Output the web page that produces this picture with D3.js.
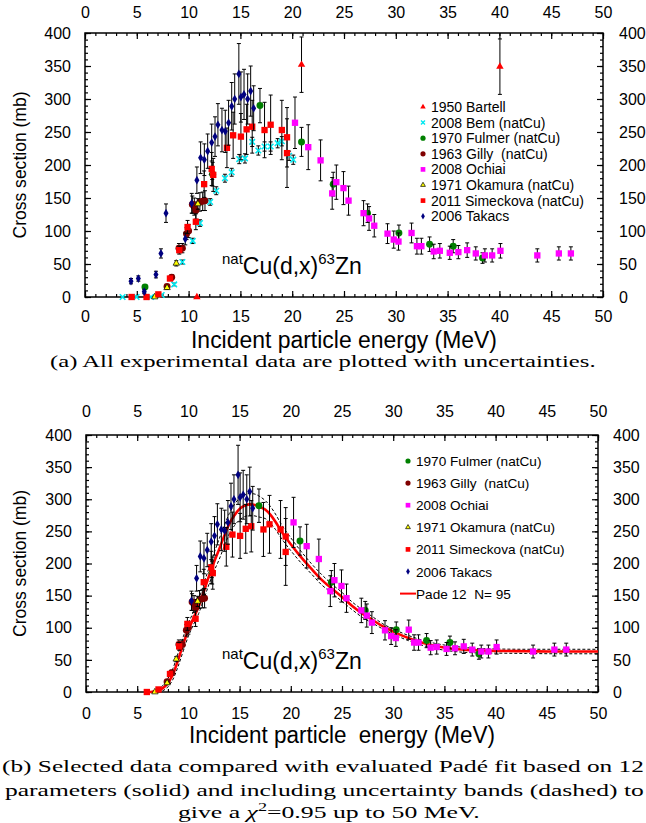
<!DOCTYPE html>
<html>
<head>
<meta charset="utf-8">
<script src="https://cdn.jsdelivr.net/npm/d3@7"></script>
<style>
body { margin: 0; background: #fff; }
svg text { font-family: "Liberation Sans", Arial, sans-serif; fill: #000; white-space: pre; }
svg text.cap { font-family: "Liberation Serif", "Times New Roman", serif; }
</style>
</head>
<body>
<div id="chart"></div>
<script>
// each point: [energy (MeV), cross section (mb), uncertainty (mb)]
var bartell = [[10.8, 0, 0], [20.9, 352, 42], [40.05, 349, 42]];
var bem = [[3.63, 0, 0], [4.98, 0, 0], [6.37, 0, 0], [7.4, 3, 1], [8.61, 19, 2], [9.4, 53, 3],
    [10.4, 85, 4], [11.1, 112, 5], [12.08, 144, 5], [12.67, 161, 6], [13.51, 180, 6], [14.16, 189, 6],
    [14.89, 209, 7], [15.44, 210, 7], [16.14, 235, 7], [16.73, 222, 7], [17.33, 228, 7], [17.92, 228, 7],
    [18.6, 233, 7], [19.0, 236, 7], [19.7, 214, 7], [20.1, 208, 7]];
var fulmer = [[5.79, 15, 3], [12.32, 186, 18], [16.89, 290, 26], [20.9, 235, 22], [23.96, 171, 18],
    [27.27, 127, 14], [30.3, 97, 12], [33.26, 80, 11], [35.54, 77, 10], [38.37, 59, 8]];
var gilly = [[7.92, 16, 3], [8.37, 30, 4], [9.07, 74, 7], [9.4, 74, 7], [9.8, 96, 9], [10.0, 100, 10],
    [10.36, 140, 13], [10.55, 137, 13], [10.7, 131, 13], [11.09, 144, 14], [11.36, 145, 14], [11.58, 146, 15]];
var ochiai = [[20.27, 264, 39], [21.55, 227, 34], [22.74, 207, 31], [23.86, 157, 24], [24.26, 174, 26],
    [24.95, 165, 25], [25.44, 146, 22], [26.89, 127, 19], [27.42, 119, 18], [27.92, 108, 17], [29.2, 96, 15],
    [29.8, 87, 13], [30.26, 84, 13], [31.52, 97, 15], [32.04, 77, 12], [32.47, 77, 12], [33.66, 69, 11],
    [34.25, 70, 11], [35.21, 67, 10], [36.04, 68, 10], [36.89, 71, 11], [37.72, 66, 10], [38.6, 63, 10],
    [39.3, 63, 10], [40.1, 70, 11], [43.66, 63, 10], [45.74, 66, 10], [46.9, 66, 10]];
var okamura = [[6.73, 0, 1], [7.92, 14, 2], [8.81, 51, 4], [10.9, 141, 8], [12.28, 188, 10]];
var simeckova = [[4.5, 0, 1], [5.94, 0, 1], [7.08, 4, 2], [8.2, 28, 3], [9.1, 71, 6], [9.9, 106, 10],
    [10.7, 114, 12], [11.5, 171, 20], [12.23, 194, 25], [12.38, 185, 25], [13.7, 226, 30], [14.3, 245, 35],
    [15.05, 243, 35], [15.6, 254, 38], [16.14, 258, 40], [17.33, 253, 42], [17.92, 261, 45], [19.0, 253, 45],
    [19.5, 242, 45], [19.5, 218, 52]];
var takacs = [[4.44, 24, 4], [5.15, 28, 4], [5.72, 8, 3], [6.85, 34, 5], [7.33, 66, 7], [7.82, 127, 14],
    [9.68, 88, 9], [10.3, 142, 15], [10.8, 177, 20], [11.16, 211, 24], [11.52, 208, 24], [11.84, 221, 26],
    [12.23, 234, 28], [12.55, 243, 30], [12.83, 261, 32], [13.22, 253, 33], [13.54, 251, 32], [13.86, 264, 34],
    [14.16, 289, 36], [14.45, 300, 38], [14.85, 338, 46], [15.05, 303, 38], [15.35, 307, 38], [15.7, 300, 38],
    [15.99, 312, 38], [16.28, 286, 34]];

// Pade fit and its uncertainty band
var fitE = [6, 6.5, 7, 7.5, 8, 8.5, 9, 9.5, 10, 10.5, 11, 11.5, 12, 12.5, 13, 13.5, 14, 14.5, 15, 15.5, 16,
    16.5, 17, 17.5, 18, 18.5, 19, 20, 21, 22, 23, 24, 25, 26, 27, 28, 29, 30, 32, 34, 36, 38, 40, 43, 46, 50];
var fitPade = [0, 0.5, 2, 6, 14, 28, 50, 75, 97, 115, 133, 156, 180, 202, 222, 243, 262, 275, 285, 290, 292,
    291, 288, 284, 276, 265, 252, 230, 210, 192, 175, 161, 148, 134, 122, 112, 102, 94, 81, 72, 67, 65, 64, 63.5, 63, 63];
var fitUpper = [0, 1, 4, 10, 21, 37, 61, 86, 107, 125, 144, 168, 193, 216, 238, 259, 278, 292, 302, 307, 309,
    308, 304, 298, 289, 277, 263, 240, 219, 200, 183, 168, 155, 140, 128, 117, 106, 98, 85, 76, 71, 68, 67, 66.5, 66.5, 66.5];
var fitLower = [0, 0, 0.5, 2, 8, 20, 40, 64, 87, 105, 122, 144, 167, 188, 206, 227, 246, 259, 268, 273, 275,
    274, 272, 270, 263, 253, 241, 220, 201, 184, 167, 154, 141, 128, 116, 107, 98, 90, 77, 68, 63, 61, 60.5, 60, 59.5, 59.5];

var xTicks = d3.range(0, 51, 5);
var yTicks = d3.range(0, 401, 50);

var series = [
    { key: "bartell", label: "1950 Bartell", data: bartell, sym: d3.symbolTriangle, fill: "#ff0000", stroke: "none", size: 24 },
    { key: "bem", label: "2008 Bem (natCu)", data: bem, sym: d3.symbolTimes, fill: "none", stroke: "#00e8f0", size: 22 },
    { key: "fulmer", label: "1970 Fulmer (natCu)", data: fulmer, sym: d3.symbolCircle, fill: "#008000", stroke: "none", size: 38 },
    { key: "gilly", label: "1963 Gilly  (natCu)", data: gilly, sym: d3.symbolCircle, fill: "#800000", stroke: "none", size: 38 },
    { key: "ochiai", label: "2008 Ochiai", data: ochiai, sym: d3.symbolSquare, fill: "#ff00ff", stroke: "none", size: 40 },
    { key: "okamura", label: "1971 Okamura (natCu)", data: okamura, sym: d3.symbolTriangle, fill: "#ffff00", stroke: "#000", size: 18 },
    { key: "simeckova", label: "2011 Simeckova (natCu)", data: simeckova, sym: d3.symbolSquare, fill: "#ff0000", stroke: "none", size: 40 },
    { key: "takacs", label: "2006 Takacs", data: takacs, sym: d3.symbolDiamond, fill: "#000080", stroke: "none", size: 22 }
];

// panel (b) keeps only the selected sets, above these energies
var selectedKeys = ["fulmer", "gilly", "ochiai", "okamura", "simeckova", "takacs"];
var selectedMinE = [10, 0, 0, 0, 5, 10];

var svg = d3.select("#chart").append("svg")
    .attr("width", 646)
    .attr("height", 823);

function drawPanel(p) {
    var x = d3.scaleLinear().domain([0, 50]).range([p.left, p.right]);
    var y = d3.scaleLinear().domain([0, 400]).range([p.bottom, p.top]);
    var g = svg.append("g");

    // minor ticks
    g.append("g").attr("transform", "translate(0," + p.bottom + ")")
        .call(d3.axisBottom(x).tickValues(d3.range(0, 51)).tickSize(-3).tickFormat(""));
    g.append("g").attr("transform", "translate(0," + p.top + ")")
        .call(d3.axisTop(x).tickValues(d3.range(0, 51)).tickSize(-3).tickFormat(""));
    g.append("g").attr("transform", "translate(" + p.left + ",0)")
        .call(d3.axisLeft(y).tickValues(d3.range(0, 401, 10)).tickSize(-3).tickFormat(""));
    g.append("g").attr("transform", "translate(" + p.right + ",0)")
        .call(d3.axisRight(y).tickValues(d3.range(0, 401, 10)).tickSize(-3).tickFormat(""));

    // major ticks + labels
    g.append("g").attr("transform", "translate(0," + p.bottom + ")")
        .call(d3.axisBottom(x).tickValues(xTicks).tickSize(-6).tickPadding(p.padBottom));
    g.append("g").attr("transform", "translate(0," + p.top + ")")
        .call(d3.axisTop(x).tickValues(xTicks).tickSize(-6).tickPadding(p.padTop));
    g.append("g").attr("transform", "translate(" + p.left + ",0)")
        .call(d3.axisLeft(y).tickValues(yTicks).tickSize(-6).tickPadding(14));
    g.append("g").attr("transform", "translate(" + p.right + ",0)")
        .call(d3.axisRight(y).tickValues(yTicks).tickSize(-6).tickPadding(p.padRight));

    g.selectAll(".domain").remove();
    g.selectAll(".tick line").attr("stroke", "#000").attr("stroke-width", 1.2);
    g.selectAll(".tick text").style("font-size", "16px").style("font-family", "'Liberation Sans', Arial, sans-serif");

    g.append("rect")
        .attr("x", p.left).attr("y", p.top)
        .attr("width", p.right - p.left).attr("height", p.bottom - p.top)
        .attr("fill", "none").attr("stroke", "#000").attr("stroke-width", 1.5);

    // axis titles
    g.append("text")
        .attr("x", (p.left + p.right) / 2).attr("y", p.bottom + 51)
        .attr("text-anchor", "middle")
        .attr("textLength", 306).attr("lengthAdjust", "spacingAndGlyphs")
        .style("font-size", "23px")
        .text(p.xTitle);
    g.append("text")
        .attr("transform", "translate(26," + ((p.top + p.bottom) / 2) + ") rotate(-90)")
        .attr("text-anchor", "middle")
        .attr("textLength", 147).attr("lengthAdjust", "spacingAndGlyphs")
        .style("font-size", "19px")
        .text("Cross section (mb)");

    // reaction label
    var lab = g.append("text").attr("x", 222).attr("y", p.bottom - 23);
    lab.append("tspan").style("font-size", "15px").attr("dy", -10).text("nat");
    lab.append("tspan").style("font-size", "23px").attr("dy", 10).text("Cu(d,x)");
    lab.append("tspan").style("font-size", "15px").attr("dy", -10).text("63");
    lab.append("tspan").style("font-size", "23px").attr("dy", 10).text("Zn");

    // fit curves
    if (p.fit) {
        var line = d3.line().curve(d3.curveMonotoneX);
        var pts = function (vals) { return fitE.map(function (e, i) { return [x(e), y(vals[i])]; }); };
        g.append("path").attr("d", line(pts(fitUpper)))
            .attr("fill", "none").attr("stroke", "#000").attr("stroke-width", 1).attr("stroke-dasharray", "3,2");
        g.append("path").attr("d", line(pts(fitLower)))
            .attr("fill", "none").attr("stroke", "#000").attr("stroke-width", 1).attr("stroke-dasharray", "3,2");
        g.append("path").attr("d", line(pts(fitPade)))
            .attr("fill", "none").attr("stroke", "#ff0000").attr("stroke-width", 2.6);
    }

    // data with error bars
    p.sets.forEach(function (s) {
        var sg = g.append("g");
        s.data.forEach(function (d) {
            if (d[2] > 0) {
                var y1 = y(d[1] + d[2]), y2 = y(Math.max(0, d[1] - d[2]));
                sg.append("line").attr("x1", x(d[0])).attr("x2", x(d[0])).attr("y1", y1).attr("y2", y2)
                    .attr("stroke", "#000").attr("stroke-width", 1);
                [y1, y2].forEach(function (yy) {
                    sg.append("line").attr("x1", x(d[0]) - 2).attr("x2", x(d[0]) + 2).attr("y1", yy).attr("y2", yy)
                        .attr("stroke", "#000").attr("stroke-width", 1);
                });
            }
        });
        sg.selectAll("path.pt").data(s.data).enter().append("path")
            .attr("class", "pt")
            .attr("transform", function (d) { return "translate(" + x(d[0]) + "," + y(d[1]) + ")"; })
            .attr("d", d3.symbol().type(s.sym).size(s.size))
            .attr("fill", s.fill)
            .attr("stroke", s.stroke)
            .attr("stroke-width", s.key === "bem" ? 1.6 : 0.7);
    });

    // legend
    var lg = g.append("g");
    p.sets.forEach(function (s, i) {
        var ly = p.legendY + i * p.legendStep;
        lg.append("path")
            .attr("transform", "translate(" + p.legendX + "," + ly + ")")
            .attr("d", d3.symbol().type(s.sym).size(s.size * 0.55))
            .attr("fill", s.fill).attr("stroke", s.stroke)
            .attr("stroke-width", s.key === "bem" ? 1.4 : 0.7);
        lg.append("text").attr("x", p.legendX + 8).attr("y", ly + 5)
            .style("font-size", p.legendFont + "px")
            .text(s.label);
    });
    if (p.fit) {
        var fy = p.legendY + p.sets.length * p.legendStep;
        lg.append("line").attr("x1", p.legendX - 8).attr("x2", p.legendX + 8).attr("y1", fy).attr("y2", fy)
            .attr("stroke", "#ff0000").attr("stroke-width", 2);
        lg.append("text").attr("x", p.legendX + 8).attr("y", fy + 5)
            .style("font-size", p.legendFont + "px")
            .text("Pade 12  N= 95");
    }
}

var setsB = selectedKeys.map(function (k, i) {
    var s = series.find(function (t) { return t.key === k; });
    return Object.assign({}, s, { data: s.data.filter(function (d) { return d[0] >= selectedMinE[i]; }) });
});

drawPanel({
    left: 85, right: 603, top: 33, bottom: 297,
    padTop: 15, padBottom: 14, padRight: 16,
    xTitle: "Incident particle energy (MeV)",
    sets: series, fit: false,
    legendX: 423, legendY: 107, legendStep: 15.6, legendFont: 14
});
drawPanel({
    left: 86, right: 598, top: 435, bottom: 692,
    padTop: 18, padBottom: 16, padRight: 15,
    xTitle: "Incident particle  energy (MeV)",
    sets: setsB, fit: true,
    legendX: 408, legendY: 461, legendStep: 22.1, legendFont: 13.6
});

// captions, stretched to the width of the original lines
function caption(cx, y, width, build) {
    var t = svg.append("text").attr("class", "cap").attr("x", 0).attr("y", 0)
        .style("font-size", "17px");
    build(t);
    var w = t.node().getBBox().width;
    t.attr("transform", "translate(" + (cx - width / 2) + "," + y + ") scale(" + (width / w) + ",1)");
}
caption(323, 367, 546, function (t) { t.text("(a) All experimental data are plotted with uncertainties."); });
caption(323, 772, 642, function (t) { t.text("(b) Selected data compared with evaluated Padé fit based on 12"); });
caption(324.5, 796, 639, function (t) { t.text("parameters (solid) and including uncertainty bands (dashed) to"); });
caption(329, 818, 302, function (t) {
    t.append("tspan").text("give a ");
    t.append("tspan").style("font-style", "italic").text("χ");
    t.append("tspan").attr("dy", -7).style("font-size", "12px").text("2");
    t.append("tspan").attr("dy", 7).text("=0.95 up to 50 MeV.");
});
</script>
</body>
</html>
